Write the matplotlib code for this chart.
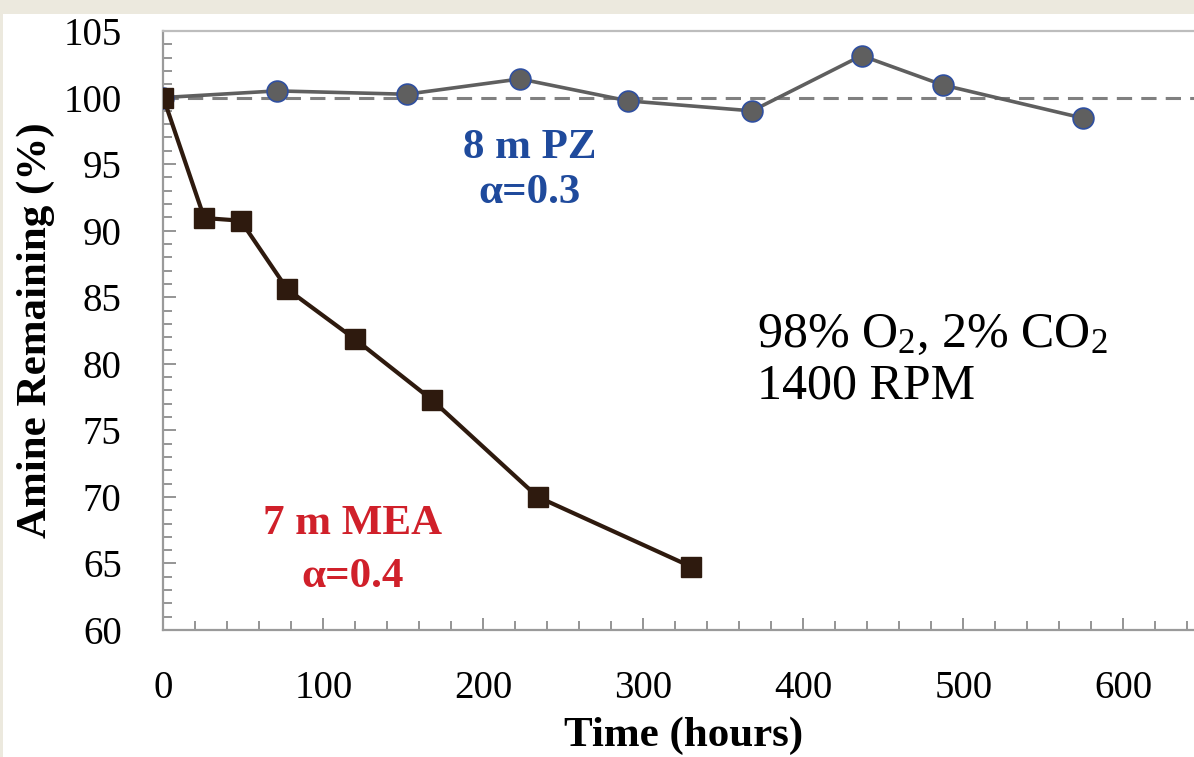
import matplotlib.pyplot as plt
from matplotlib.patches import Rectangle
from matplotlib.ticker import MultipleLocator

# data
mea_hours = [0, 25.6, 48.4, 77.5, 119.8, 167.8, 234, 330]
mea_pct = [100, 90.95, 90.75, 85.6, 81.85, 77.3, 70.0, 64.75]

pz_hours = [0, 71, 152, 223, 290.6, 368, 436.4, 487, 575]
pz_pct = [100, 100.5, 100.25, 101.4, 99.75, 99.0, 103.15, 100.95, 98.45]

plt.rcParams["font.family"] = ["Liberation Serif", "DejaVu Serif"]
plt.rcParams["mathtext.default"] = "regular"

fig = plt.figure(figsize=(11.94, 7.57), dpi=100, facecolor="white")
fig.patches.append(Rectangle((0, 1 - 14 / 757), 1, 14 / 757, transform=fig.transFigure,
                             facecolor="#ECE9DE", edgecolor="none", zorder=0))
fig.patches.append(Rectangle((0, 0), 3 / 1194, 1, transform=fig.transFigure,
                             facecolor="#ECE9DE", edgecolor="none", zorder=0))

ax = fig.add_axes([163.3 / 1194, 1 - 630 / 757, 1040 / 1194, (630 - 31) / 757])
ax.set_facecolor("white")

# reference line at 100 %
ax.axhline(100, color="#808080", lw=2.2, ls=(0, (5, 3)), zorder=1)

ax.plot(pz_hours, pz_pct, color="#5F5F5F", lw=2.6, marker="o", ms=15,
        markerfacecolor="#5F5F5F", markeredgecolor="#2F4FA0", markeredgewidth=1.2, zorder=3)
ax.plot(mea_hours, mea_pct, color="#2E1A0E", lw=3, marker="s", ms=14.5,
        markerfacecolor="#2E1A0E", markeredgecolor="#2E1A0E", zorder=4)

ax.set_xlim(0, 650)
ax.set_ylim(60, 105)
ax.xaxis.set_major_locator(MultipleLocator(100))
ax.xaxis.set_minor_locator(MultipleLocator(20))
ax.yaxis.set_major_locator(MultipleLocator(5))
ax.yaxis.set_minor_locator(MultipleLocator(1))

ax.tick_params(which="both", direction="in", color="#8C8C8C", width=1.3,
               labelsize=28, top=False, right=False)
ax.tick_params(which="major", length=9)
ax.tick_params(which="minor", length=6.5)
ax.tick_params(axis="x", which="major", pad=29)
ax.tick_params(axis="y", which="major", pad=30)

for side in ["left", "bottom", "top"]:
    ax.spines[side].set_color("#9A9A9A")
    ax.spines[side].set_linewidth(1.6)
ax.spines["right"].set_visible(False)
ax.spines["top"].set_color("#BDBDBD")

ax.set_xlabel("Time (hours)", fontsize=31, fontweight="bold", labelpad=7)
ax.set_ylabel("Amine Remaining (%)", fontsize=31, fontweight="bold", labelpad=6)

ax.text(229, 96.2, "8 m PZ", color="#1F4A9C", fontsize=31, fontweight="bold", ha="center", va="center")
ax.text(229, 92.8, "α=0.3", color="#1F4A9C", fontsize=31, fontweight="bold", ha="center", va="center")
ax.text(118, 68.0, "7 m MEA", color="#D0202A", fontsize=31, fontweight="bold", ha="center", va="center")
ax.text(118, 64.0, "α=0.4", color="#D0202A", fontsize=31, fontweight="bold", ha="center", va="center")

ax.text(371, 82.2, "98% O$_2$, 2% CO$_2$", fontsize=36, ha="left", va="center")
ax.text(371, 78.3, "1400 RPM", fontsize=36, ha="left", va="center")

fig.savefig("out.png", dpi=100, facecolor="white")
